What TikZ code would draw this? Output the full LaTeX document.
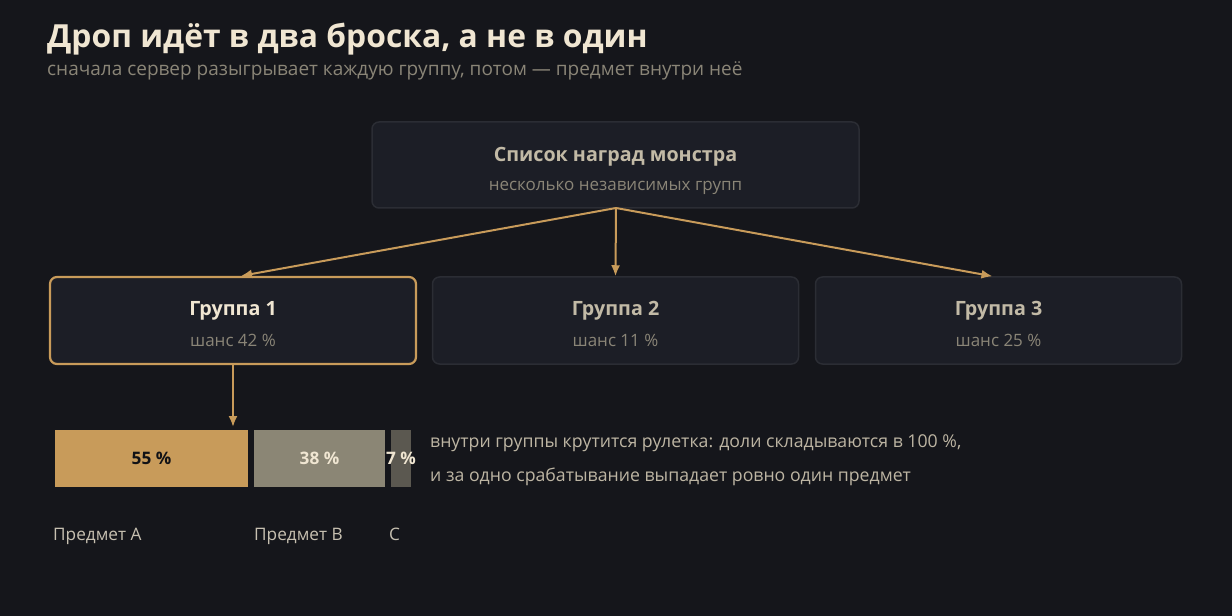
\documentclass[tikz,border=0pt]{standalone}
\usepackage{fontspec}
\setmainfont{Open Sans}
\usetikzlibrary{arrows.meta,positioning}
\definecolor{bg}{HTML}{15161B}
\definecolor{boxfill}{HTML}{1C1E26}
\definecolor{boxline}{HTML}{2B2D34}
\definecolor{gold}{HTML}{C89B5A}
\definecolor{titletext}{HTML}{F0E6D2}
\definecolor{headtext}{HTML}{C2BAA6}
\definecolor{subtext}{HTML}{8A8577}
\definecolor{bodytext}{HTML}{BDB5A3}
\definecolor{barB}{HTML}{8B8675}
\definecolor{barC}{HTML}{5B5850}
\newcommand{\fsz}[1]{\fontsize{#1bp}{#1bp}\selectfont}
\tikzset{
  card/.style={draw=boxline, line width=1.5bp, fill=boxfill, rounded corners=7bp,
    minimum width=#1, minimum height=87bp, inner sep=0pt},
  card/.default=366bp,
  hot/.style={draw=gold, line width=2.2bp},
  head/.style={font=\bfseries\fsz{19.7}, text=headtext, inner sep=0pt},
  sub/.style={font=\fsz{17}, text=subtext, inner sep=0pt},
  flow/.style={draw=gold, line width=2bp, -{Latex[length=11bp,width=9bp]}},
  bar/.style={minimum height=57bp, minimum width=#1, inner sep=0pt},
  pct/.style={font=\bfseries\fsz{17.2}, inner sep=0pt},
  note/.style={font=\fsz{17.7}, text=bodytext, inner sep=0pt, anchor=west},
  item/.style={font=\fsz{17.2}, text=bodytext!85, inner sep=0pt, anchor=base west},
}
\begin{document}
\begin{tikzpicture}[x=1bp, y=-1bp]
    \fill[bg] (0,0) rectangle (1232,616);
    \useasboundingbox (0,0) rectangle (1232,616);
    % heading
    \node[anchor=base west, inner sep=0pt, font=\bfseries\fsz{31.8}, text=titletext] (title) at (47,48) {Дроп идёт в два броска, а не в один};
    \node[anchor=base west, inner sep=0pt, font=\fsz{19}, text=subtext] (subtitle) at (47,76) {сначала сервер разыгрывает каждую группу, потом — предмет внутри неё};
    % drop table
    \node[card=487bp, minimum height=86bp] (list) at (615.5,165) {};
    \node[head] at (615.5,157) {Список наград монстра};
    \node[sub] at (615.5,188) {несколько независимых групп};
    % groups
    \node[card, hot] (g1) at (233,320.5) {};
    \node[card] (g2) at (615.5,320.5) {};
    \node[card] (g3) at (998.5,320.5) {};
    \node[head, text=titletext] at (233,311) {Группа 1};
    \node[sub] at (233,340) {шанс 42 \%};
    \node[head] at (615.5,311) {Группа 2};
    \node[sub] at (615.5,340) {шанс 11 \%};
    \node[head] at (998.5,311) {Группа 3};
    \node[sub] at (998.5,340) {шанс 25 \%};
    \coordinate (split) at (616,208);
    \draw[flow] (split) -- ([xshift=8bp]g1.north);
    \draw[flow] (split) -- (g2.north);
    \draw[flow] (split) -- ([xshift=-6bp]g3.north);
    % roulette inside group 1
    \node[bar=193bp, fill=gold] (itemA) at (151.5,458.5) {};
    \node[bar=131bp, fill=barB] (itemB) at (319.5,458.5) {};
    \node[bar=20bp, fill=barC] (itemC) at (401,458.5) {};
    \coordinate (hit) at (233,427);
    \draw[flow] (g1.south) -- (hit);
    \node[pct, text=bg!80!black] at (itemA) {55 \%};
    \node[pct, text=titletext] at (itemB) {38 \%};
    \node[pct, text=titletext] at (itemC) {7 \%};
    \node[item] at (53,540) {Предмет А};
    \node[item] at (254,540) {Предмет В};
    \node[item] at (389,540) {С};
    \node[note, anchor=base west] (rule1) at (430,447) {внутри группы крутится рулетка: доли складываются в 100 \%,};
    \node[note, anchor=base west] (rule2) at (430,481) {и за одно срабатывание выпадает ровно один предмет};
\end{tikzpicture}
\end{document}
